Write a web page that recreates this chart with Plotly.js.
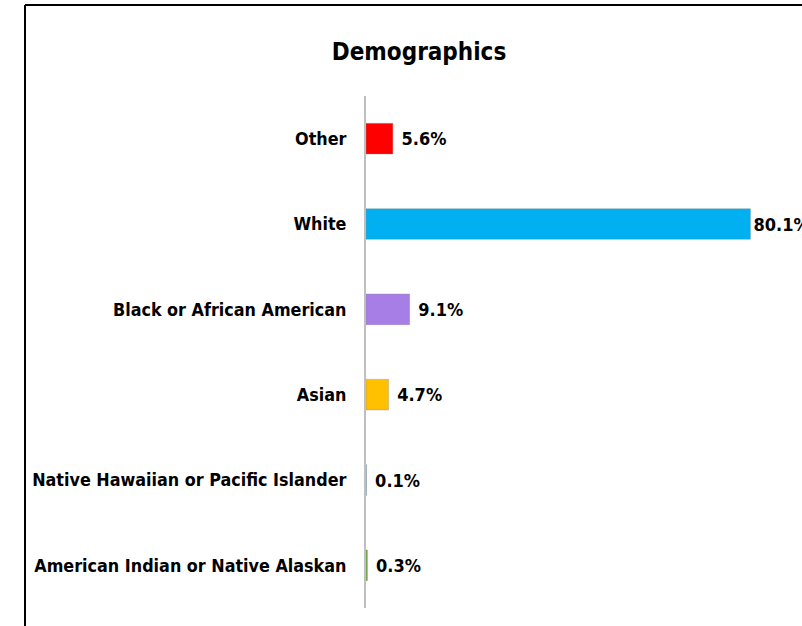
<!DOCTYPE html>
<html>
<head>
<meta charset="utf-8">
<script src="https://cdn.plot.ly/plotly-3.0.1.min.js"></script>
<style>html,body{margin:0;padding:0;background:#fff;}#chart{width:802px;height:626px;}</style>
</head>
<body>
<div id="chart"></div>
<script>
const categories = ["American Indian or Native Alaskan", "Native Hawaiian or Pacific Islander", "Asian", "Black or African American", "White", "Other"];
const values = [0.3, 0.1, 4.7, 9.1, 80.1, 5.6];
const labels = ["0.3%", "0.1%", "4.7%", "9.1%", "80.1%", "5.6%"];
const colors = ["#70AD47", "#5B9BD5", "#FFC000", "#A77DE6", "#00B0F0", "#FF0000"];

const FONT = "'Liberation Sans Narrow', 'DejaVu Sans Condensed', 'Roboto', sans-serif";
const W = 802, H = 626;
const m = {l: 366, r: 28, t: 96, b: 18};
const pw = W - m.l - m.r, ph = H - m.t - m.b;
const px = x => (x - m.l) / pw;
const py = y => (H - m.b - y) / ph;

const trace = {
  type: 'bar', orientation: 'h',
  x: values, y: categories,
  marker: {color: colors, line: {color: 'rgba(140,140,140,0.5)', width: 0.7}},
  text: labels,
  texttemplate: values.map(v => v > 50 ? '%{text}' : '\u00a0%{text}'),
  textposition: 'outside', cliponaxis: false,
  textfont: {family: FONT, size: 18, color: '#000', weight: 'bold'},
  hoverinfo: 'none'
};

const layout = {
  width: W, height: H,
  margin: m,
  paper_bgcolor: '#fff', plot_bgcolor: '#fff',
  showlegend: false,
  bargap: 0.64,
  title: {text: '<b>Demographics</b>', font: {family: FONT, size: 24, color: '#000'},
          xref: 'paper', x: px(419), xanchor: 'center', yref: 'container', y: 1 - 52 / H, yanchor: 'middle'},
  xaxis: {range: [0, 85], visible: false, fixedrange: true},
  yaxis: {type: 'category', categoryorder: 'array', categoryarray: categories, range: [-0.5, 5.5],
          showline: true, linecolor: '#BFBFBF', linewidth: 2, showgrid: false, zeroline: false,
          ticks: '', ticklabelstandoff: 14,
          tickfont: {family: FONT, size: 17.8, color: '#000', weight: 'bold'}},
  shapes: [
    {type: 'line', xref: 'paper', yref: 'paper', x0: px(25), x1: px(802), y0: py(5), y1: py(5), line: {color: '#000', width: 2}},
    {type: 'line', xref: 'paper', yref: 'paper', x0: px(25), x1: px(25), y0: py(5), y1: py(626), line: {color: '#000', width: 2}}
  ]
};

Plotly.newPlot('chart', [trace], layout, {displayModeBar: false, staticPlot: true});
</script>
</body>
</html>
